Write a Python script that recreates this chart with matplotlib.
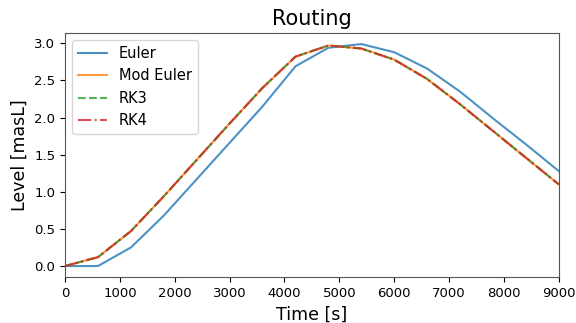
import matplotlib
matplotlib.use("Agg")
import matplotlib.pyplot as plt

# Time axis [s] and water level results [masL] for each integration scheme
time_s = [0, 600, 1200, 1800, 2400, 3000, 3600, 4200, 4800, 5400, 6000, 6600, 7200, 7800, 8400, 9000]
level_euler = [0.0, 0.0, 0.25, 0.68, 1.17, 1.66, 2.15, 2.69, 2.94, 2.99, 2.88, 2.66, 2.35, 1.99, 1.64, 1.28]
level_mod_euler = [0.0, 0.12, 0.47, 0.94, 1.43, 1.92, 2.40, 2.82, 2.97, 2.93, 2.78, 2.52, 2.18, 1.82, 1.46, 1.10]
level_rk3 = [0.0, 0.12, 0.47, 0.94, 1.43, 1.92, 2.40, 2.82, 2.97, 2.93, 2.78, 2.52, 2.18, 1.82, 1.46, 1.10]
level_rk4 = [0.0, 0.12, 0.47, 0.94, 1.43, 1.92, 2.40, 2.82, 2.97, 2.93, 2.78, 2.52, 2.18, 1.82, 1.46, 1.10]

fig = plt.figure(figsize=(5.76, 3.23), dpi=100)
ax = fig.add_axes([0.113, 0.142, 0.857, 0.756])

ax.plot(time_s, level_euler, color="tab:blue", lw=1.5, alpha=0.8, label="Euler")
ax.plot(time_s, level_mod_euler, color="tab:orange", lw=1.5, alpha=0.8, label="Mod Euler")
ax.plot(time_s, level_rk3, color="tab:green", lw=1.5, ls="--", alpha=0.8, label="RK3")
ax.plot(time_s, level_rk4, color="tab:red", lw=1.5, ls="-.", alpha=0.8, label="RK4")

ax.set_xlim(0, 9000)
ax.set_title("Routing", fontsize=15)
ax.set_xlabel("Time [s]", fontsize=12.5)
ax.set_ylabel("Level [masL]", fontsize=12.5)
ax.tick_params(labelsize=9.5)
for s in ax.spines.values():
    s.set_color("#555555")
ax.legend(loc="upper left", fontsize=10.5)

fig.savefig("out.png", dpi=100)
